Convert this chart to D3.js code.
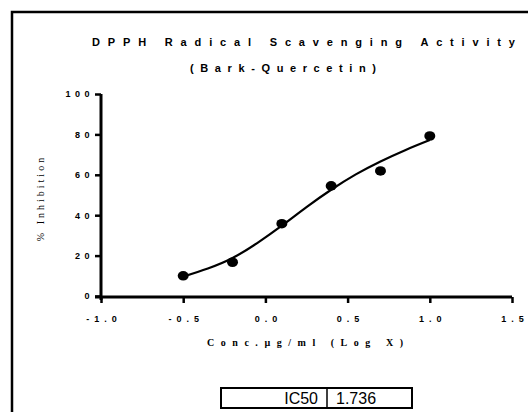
<!DOCTYPE html>
<html>
<head>
<meta charset="utf-8">
<script src="https://cdn.jsdelivr.net/npm/d3@7"></script>
<style>
html,body{margin:0;padding:0;background:#fff;}
svg{display:block;}
</style>
</head>
<body>
<svg id="chart" width="528" height="412"></svg>
<script>
// Data points (log concentration, % inhibition)
const logConc = [-0.5, -0.2, 0.1, 0.4, 0.7, 1.0];
const inhibition = [10.0, 16.7, 35.8, 54.5, 61.9, 79.2];
// Fitted curve samples
const curveX = [-0.5, -0.35, -0.2, -0.05, 0.1, 0.25, 0.4, 0.55, 0.7, 0.85, 1.0];
const curveY = [9.6, 13.6, 18.8, 26.2, 34.8, 44.0, 52.6, 60.2, 66.6, 72.2, 77.2];
const xTicks = [-1.0, -0.5, 0.0, 0.5, 1.0, 1.5];
const yTicks = [0, 20, 40, 60, 80, 100];
const tableLabels = ["IC50", "1.736"];

const svg = d3.select("#chart");

// Frame
svg.append("rect").attr("x", 12).attr("y", 12).attr("width", 540).attr("height", 420)
  .attr("fill", "none").attr("stroke", "#000").attr("stroke-width", 2.5);

const x = d3.scaleLinear().domain([-1, 1.5]).range([101, 512]);
const y = d3.scaleLinear().domain([0, 100]).range([296, 94]);

// Title
svg.append("text").attr("x", 92).attr("y", 46)
  .attr("font-family", "Liberation Sans, Arial, sans-serif").attr("font-weight", "bold").attr("font-size", 11)
  .attr("textLength", 423).attr("lengthAdjust", "spacing")
  .text("DPPH Radical Scavenging Activity");
svg.append("text").attr("x", 190).attr("y", 72)
  .attr("font-family", "Liberation Sans, Arial, sans-serif").attr("font-weight", "bold").attr("font-size", 11)
  .attr("textLength", 186).attr("lengthAdjust", "spacing")
  .text("(Bark-Quercetin)");

// Y axis
const yAxis = svg.append("g").attr("transform", "translate(101,0)")
  .call(d3.axisLeft(y).tickValues(yTicks).tickSize(6).tickPadding(5).tickFormat(d3.format("d")));
yAxis.select(".domain").attr("d", "M0," + (y(100)) + "V" + (y(0) + 4)).attr("stroke-width", 3);
yAxis.selectAll(".tick line").attr("stroke-width", 2.5);
yAxis.selectAll(".tick text")
  .attr("font-family", "Liberation Sans, Arial, sans-serif").attr("font-weight", "bold").attr("font-size", 9)
  .attr("letter-spacing", "4.5px").attr("dx", "4px").attr("fill", "#000");

// X axis
const xAxis = svg.append("g").attr("transform", "translate(0,297)")
  .call(d3.axisBottom(x).tickValues(xTicks).tickSize(6).tickPadding(13).tickFormat(d3.format(".1f")));
xAxis.select(".domain").attr("d", "M" + (x(-1) - 6) + ",0H" + x(1.5)).attr("stroke-width", 3);
xAxis.selectAll(".tick line").attr("stroke-width", 2.5);
xAxis.selectAll(".tick text")
  .attr("font-family", "Liberation Sans, Arial, sans-serif").attr("font-weight", "bold").attr("font-size", 9)
  .attr("letter-spacing", "5px").attr("dx", "2.5px").attr("fill", "#000")
  .text(d => d3.format(".1f")(d).replace("\u2212", "-"));

// Axis titles
svg.append("text").attr("x", 207).attr("y", 346)
  .attr("font-family", "Liberation Serif, Times New Roman, serif").attr("font-weight", "bold").attr("font-size", 10)
  .attr("textLength", 196).attr("lengthAdjust", "spacing")
  .text("Conc.\u00b5g/ml (Log X)");
svg.append("text").attr("transform", "translate(40,198) rotate(-90)")
  .attr("text-anchor", "middle").attr("dy", "0.35em")
  .attr("font-family", "Liberation Serif, Times New Roman, serif").attr("font-size", 10)
  .attr("letter-spacing", "3px")
  .text("% Inhibition");

// Curve
const line = d3.line().x(d => x(d[0])).y(d => y(d[1])).curve(d3.curveNatural);
svg.append("path").datum(curveX.map((v, i) => [v, curveY[i]]))
  .attr("d", line).attr("fill", "none").attr("stroke", "#000").attr("stroke-width", 2.2);

// Points
svg.selectAll("ellipse.pt").data(logConc.map((v, i) => [v, inhibition[i]])).enter()
  .append("ellipse").attr("class", "pt")
  .attr("cx", d => x(d[0])).attr("cy", d => y(d[1])).attr("rx", 5.5).attr("ry", 4.8).attr("fill", "#000");

// IC50 table
const tb = svg.append("g");
tb.append("rect").attr("x", 221).attr("y", 388).attr("width", 191).attr("height", 20)
  .attr("fill", "none").attr("stroke", "#000").attr("stroke-width", 2);
tb.append("line").attr("x1", 327).attr("x2", 327).attr("y1", 388).attr("y2", 408)
  .attr("stroke", "#000").attr("stroke-width", 1.5);
tb.append("text").attr("x", 318).attr("y", 404).attr("text-anchor", "end")
  .attr("font-family", "Liberation Sans, Arial, sans-serif").attr("font-size", 16).text(tableLabels[0]);
tb.append("text").attr("x", 336).attr("y", 404)
  .attr("font-family", "Liberation Sans, Arial, sans-serif").attr("font-size", 16).text(tableLabels[1]);
</script>
</body>
</html>
